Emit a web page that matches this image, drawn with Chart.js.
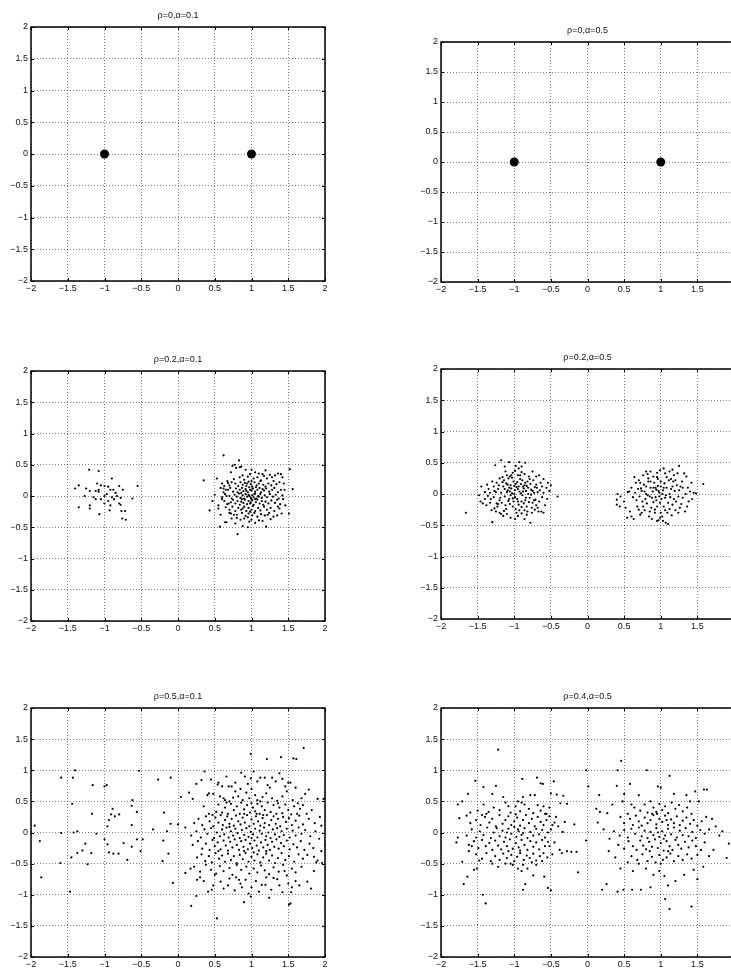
<!DOCTYPE html>
<html>
<head>
<meta charset="utf-8">
<script src="https://cdn.jsdelivr.net/npm/chart.js@4.4.0/dist/chart.umd.min.js"></script>
<style>
html, body { margin: 0; padding: 0; background: #fff; overflow: hidden; width: 731px; height: 970px; }
body { position: relative; }
canvas { position: absolute; }
</style>
</head>
<body>
<script>
// tick values shared by both axes of every panel
const tickValues = [-2, -1.5, -1, -0.5, 0, 0.5, 1, 1.5, 2];
const titles = ['ρ=0,α=0.1', 'ρ=0,α=0.5', 'ρ=0.2,α=0.1', 'ρ=0.2,α=0.5', 'ρ=0.5,α=0.1', 'ρ=0.4,α=0.5'];

// rho = 0 : only the two centres
const centers = [[-1, 0], [1, 0]];

// rho = 0.2, alpha = 0.1
const r02a01Left = [[-1.21,0.42],[-1.08,0.40],[-0.9,0.28],[-1.1,0.2],[-1.05,0.17],[-1.0,0.16],[-0.95,0.15],[-0.8,0.16],[-0.55,0.16],[-1.35,0.17],[-1.4,0.12],[-1.25,0.12],[-1.2,0.08],[-1.12,0.08],[-1.08,0.07],[-1.08,0.1],[-0.92,0.1],[-0.88,0.1],[-0.85,0.05],[-0.75,0.1],[-0.97,0.03],[-1.0,0.0],[-1.27,0.0],[-1.15,-0.02],[-0.9,-0.02],[-0.83,0.0],[-0.78,-0.03],[-0.62,-0.04],[-1.05,-0.05],[-0.95,-0.08],[-0.8,-0.12],[-0.78,-0.14],[-0.92,-0.15],[-1.2,-0.15],[-1.0,-0.12],[-1.35,-0.18],[-1.2,-0.2],[-0.93,-0.23],[-0.77,-0.24],[-0.72,-0.24],[-1.07,-0.29],[-0.76,-0.36],[-0.71,-0.38],[-1.12,-0.05],[-0.87,-0.05]];
const r02a01Right = [[0.35,0.25],[0.43,-0.23],[0.62,0.65],[0.57,-0.49],[0.81,-0.61],[0.83,0.57],[1.52,0.43],[1.51,-0.28],[1.56,0.11],[1.2,-0.49],[0.47,-0.08],[0.5,0.02],[0.55,-0.15],[0.53,0.28],[0.55,-0.2],[0.58,0.13],[0.6,-0.05],[0.63,0.16],[0.64,-0.42],[0.66,-0.42],[0.68,0.21],[0.7,-0.27],[0.72,0.38],[0.74,0.48],[0.77,0.5],[0.79,0.45],[0.78,-0.44],[0.8,-0.35],[0.84,0.46],[0.86,0.47],[0.88,-0.48],[0.92,0.42],[0.95,-0.5],[1.0,0.42],[1.05,0.38],[1.1,0.36],[1.15,0.35],[1.19,0.41],[1.25,0.34],[1.28,0.3],[1.32,0.33],[1.36,0.36],[1.4,0.35],[1.42,0.3],[1.44,0.2],[1.45,0.1],[1.43,-0.05],[1.46,-0.15],[1.41,-0.28],[1.38,-0.2],[1.35,-0.31],[1.3,-0.33],[1.26,-0.37],[1.22,-0.3],[1.15,-0.4],[1.1,-0.39],[1.05,-0.43],[1.0,-0.38],[0.97,-0.41],[0.9,-0.36],[0.85,-0.38],[0.76,-0.3],[0.73,-0.36],[0.69,-0.12],[0.66,0.0],[0.65,0.1],[0.62,0.12],[0.6,0.2],[0.58,-0.3],
[0.76,0.27],[0.84,0.3],[0.9,0.26],[0.95,0.31],[1.03,0.28],[1.08,0.3],[1.13,0.25],[1.21,0.28],[1.3,0.24],[0.88,0.33],[0.98,0.35],[1.17,0.32],
[0.7,0.17],[0.73,0.22],[0.78,0.2],[0.82,0.16],[0.85,0.22],[0.88,0.18],[0.91,0.21],[0.93,0.16],[0.96,0.23],[0.99,0.19],[1.01,0.15],[1.04,0.22],[1.07,0.17],[1.1,0.2],[1.12,0.24],[1.16,0.18],[1.19,0.15],[1.23,0.2],[1.27,0.17],[1.34,0.19],[1.38,0.22],[0.67,0.24],[0.94,0.2],[1.0,0.24],
[0.62,0.06],[0.68,0.1],[0.71,0.13],[0.75,0.07],[0.79,0.12],[0.81,0.06],[0.84,0.1],[0.87,0.13],[0.89,0.08],[0.92,0.11],[0.95,0.06],[0.97,0.14],[1.0,0.09],[1.02,0.12],[1.05,0.07],[1.08,0.1],[1.11,0.13],[1.13,0.06],[1.17,0.09],[1.2,0.12],[1.24,0.07],[1.28,0.1],[1.31,0.13],[1.36,0.06],[1.4,0.1],[0.86,0.05],[0.98,0.1],[1.06,0.14],[0.93,0.08],[1.15,0.11],
[0.6,-0.02],[0.64,0.03],[0.7,0.0],[0.73,-0.04],[0.77,0.02],[0.8,-0.01],[0.83,0.04],[0.85,-0.03],[0.88,0.01],[0.9,-0.04],[0.92,0.03],[0.94,-0.01],[0.96,0.02],[0.99,-0.03],[1.01,0.01],[1.03,-0.02],[1.05,0.04],[1.07,-0.04],[1.09,0.0],[1.12,0.03],[1.14,-0.03],[1.18,0.01],[1.21,-0.02],[1.25,0.03],[1.29,-0.01],[1.33,0.02],[1.37,-0.04],[1.42,0.01],[0.97,0.0],[1.0,-0.05],[1.04,0.03],[0.87,-0.05],[1.1,-0.01],
[0.63,-0.08],[0.67,-0.13],[0.72,-0.1],[0.75,-0.06],[0.78,-0.12],[0.81,-0.08],[0.84,-0.14],[0.86,-0.09],[0.89,-0.11],[0.91,-0.06],[0.94,-0.13],[0.96,-0.08],[0.98,-0.12],[1.01,-0.07],[1.03,-0.14],[1.06,-0.1],[1.08,-0.06],[1.11,-0.12],[1.14,-0.08],[1.16,-0.14],[1.19,-0.09],[1.23,-0.12],[1.27,-0.07],[1.32,-0.11],[1.35,-0.06],[1.39,-0.13],[0.99,-0.1],[1.05,-0.05],
[0.65,-0.18],[0.7,-0.22],[0.74,-0.17],[0.78,-0.24],[0.82,-0.19],[0.86,-0.22],[0.9,-0.17],[0.93,-0.24],[0.96,-0.19],[1.0,-0.22],[1.02,-0.16],[1.05,-0.24],[1.09,-0.19],[1.12,-0.23],[1.17,-0.17],[1.21,-0.22],[1.26,-0.19],[1.31,-0.24],[1.36,-0.17],[0.88,-0.2],[0.98,-0.25],
[0.72,-0.28],[0.8,-0.3],[0.87,-0.27],[0.92,-0.32],[0.96,-0.28],[1.01,-0.31],[1.04,-0.27],[1.08,-0.33],[1.13,-0.29],[1.18,-0.31],[1.24,-0.27],[0.95,-0.34]];

// rho = 0.2, alpha = 0.5
const r02a05Left = [[-1.66,-0.30],[-0.41,-0.04],[-1.30,-0.45],[-1.18,0.54],[-1.26,0.46],[-1.07,0.51],[-0.93,0.51],[-0.85,0.50],[-1.45,0.12],[-1.37,0.15],[-0.78,-0.46],[-0.60,0.24],[-0.50,0.14],[-0.55,-0.08],[-0.63,-0.28],[-0.67,-0.28],[-1.48,-0.02],[-1.46,-0.12],[-1.43,-0.15],[-1.40,-0.08],[-1.38,-0.18],[-1.33,-0.14],[-1.31,-0.26],[-1.27,-0.23],[-1.25,-0.28],[-1.22,-0.16],[-1.20,-0.30],[-1.15,-0.35],[-1.10,-0.32],[-1.05,-0.38],[-0.99,-0.40],[-0.95,-0.35],[-0.90,-0.31],[-0.86,-0.40],[-0.83,-0.33],[-0.76,-0.30],[-0.72,-0.25],[-0.58,-0.18],[-0.52,0.05],[-0.54,0.18],[-0.56,0.10],[-0.62,0.12],[-0.65,0.06],[-0.70,0.15],[-0.74,0.22],[-0.80,0.28],[-0.86,0.32],[-0.90,0.35],[-0.95,0.30],[-0.99,0.37],[-1.02,0.34],[-1.06,0.28],[-1.12,0.36],[-1.16,0.27],[-1.20,0.25],[-1.24,0.18],[-1.28,0.12],[-1.33,0.02],[-1.28,-0.05],
[-1.22,0.08],[-1.18,0.02],[-1.15,0.12],[-1.13,-0.04],[-1.11,0.17],[-1.09,0.06],[-1.07,-0.08],[-1.05,0.14],[-1.03,0.01],[-1.01,0.2],[-0.99,-0.05],[-0.97,0.11],[-0.95,-0.12],[-0.93,0.04],[-0.91,0.16],[-0.89,-0.02],[-0.87,0.09],[-0.85,-0.1],[-0.83,0.13],[-0.81,0.0],[-0.79,-0.06],[-0.77,0.07],[-0.75,-0.14],[-0.73,0.02],[-0.71,-0.09],[-0.69,0.1],[-1.2,-0.1],[-1.17,-0.14],[-1.14,0.22],[-1.12,-0.18],[-1.1,0.03],[-1.08,0.25],[-1.06,-0.16],[-1.04,0.09],[-1.02,-0.2],[-1.0,0.13],[-0.98,-0.24],[-0.96,0.19],[-0.94,-0.17],[-0.92,0.24],[-0.9,-0.21],[-0.88,0.12],[-0.86,-0.26],[-0.84,0.05],[-0.82,0.2],[-0.8,-0.13],[-0.78,0.16],[-0.76,-0.22],[-0.72,0.11],[-0.7,-0.18],[-0.68,0.03],[-0.66,-0.12],[-0.64,0.18],[-1.25,0.03],[-1.23,-0.2],[-1.21,0.14],[-1.19,-0.06],[-1.16,0.19],[-1.13,0.08],[-1.11,-0.24],[-1.09,0.15],[-1.07,0.1],[-1.05,-0.02],[-1.03,0.26],[-1.01,-0.12],[-0.99,0.06],[-0.97,-0.3],[-0.95,0.08],[-0.93,-0.26],[-0.91,0.01],[-0.89,0.22],[-0.87,-0.15],[-0.85,0.18],[-0.83,-0.2],[-0.81,0.1],[-0.79,0.24],[-0.77,-0.01],[-0.75,0.05],[-0.73,-0.1],[-1.35,0.08],[-1.32,-0.08],[-1.3,0.2],[-1.27,0.05],[-1.14,-0.27],[-1.04,0.3],[-0.96,-0.08],[-0.92,0.3],[-1.0,0.0],[-0.94,0.12],[-1.06,0.04],[-0.88,0.04],[-0.84,-0.06],[-0.98,0.16],[-1.02,-0.07],[-0.9,-0.12],[-0.86,0.14],[-1.08,-0.11],[-0.82,-0.28],[-0.7,0.28],[-0.62,-0.05],[-0.68,-0.22],[-0.6,0.02],[-1.36,-0.03],[-1.4,0.03],[-1.24,-0.15],[-1.1,0.3],[-0.94,0.41],[-0.98,0.45],[-0.9,0.44],[-1.13,0.44],[-0.75,0.36],[-0.66,0.3],[-0.6,-0.3],[-1.18,-0.32]];
const r02a05Right = [[1.58,0.16],[0.41,0.0],[0.40,-0.17],[0.40,-0.09],[0.54,-0.38],[0.63,-0.40],[1.07,-0.46],[1.10,-0.48],[1.25,0.45],[1.04,0.41],[0.64,0.27],[0.55,0.03],[0.5,-0.12],[0.52,-0.22],[0.58,-0.28],[0.6,0.1],[0.62,-0.05],[0.66,0.18],[0.68,-0.2],[0.7,0.22],[0.72,-0.33],[0.74,0.05],[0.76,0.3],[0.78,-0.26],[0.8,0.12],[0.82,0.32],[0.84,-0.36],[0.86,0.36],[0.88,-0.4],[0.9,0.28],[0.92,-0.3],[0.95,0.34],[0.97,-0.42],[0.99,0.38],[1.02,-0.36],[1.06,0.33],[1.09,-0.3],[1.12,0.36],[1.15,-0.34],[1.18,0.3],[1.2,-0.26],[1.23,0.33],[1.26,-0.22],[1.29,0.2],[1.32,0.33],[1.35,0.28],[1.37,0.1],[1.38,-0.12],[1.36,-0.2],[1.33,-0.28],[1.3,-0.06],[1.4,0.04],[1.42,0.18],[1.45,0.02],[1.48,0.01],[1.43,-0.08],[1.27,0.12],[1.24,-0.04],[1.22,0.14],[1.21,-0.12],[1.19,0.05],[1.17,0.2],[1.16,-0.17],[1.14,0.08],[1.13,-0.05],[1.11,0.22],[1.1,-0.14],[1.08,0.1],[1.07,-0.02],[1.05,0.17],[1.04,-0.2],[1.03,0.06],[1.01,-0.08],[1.0,0.2],[0.99,-0.14],[0.98,0.02],[0.96,0.13],[0.95,-0.2],[0.94,0.07],[0.93,-0.05],[0.91,0.18],[0.9,-0.13],[0.89,0.04],[0.87,-0.22],[0.86,0.1],[0.85,-0.04],[0.83,0.2],[0.81,-0.15],[0.8,0.0],[0.79,-0.08],[0.77,0.15],[0.75,-0.12],[0.73,0.09],[0.71,-0.04],[0.69,0.08],[0.67,-0.1],[0.65,0.02],[0.85,-0.28],[0.92,-0.25],[1.0,-0.3],[1.06,-0.26],[0.83,0.25],[0.96,0.24],[1.08,0.27],[1.14,0.24],[0.88,-0.06],[1.02,0.0],[1.06,-0.06],[0.97,0.05],[0.93,0.1],[1.12,0.0],[1.18,-0.08],[0.78,0.04],[0.82,-0.02],[1.25,0.06],[1.3,0.1],[0.72,0.18],[0.7,-0.25],[0.76,-0.2],[1.34,0.0],[1.28,-0.16],[1.0,0.12],[0.9,0.1],[0.94,-0.1],[1.04,0.1],[1.16,0.12],[0.98,-0.04],[1.2,0.22],[0.86,0.2],[0.74,-0.3],[0.6,-0.36],[1.12,-0.24],[1.24,-0.3],[1.03,-0.43],[0.95,-0.43],[0.99,-0.38],[0.8,0.36],[0.95,0.27],[1.16,0.39],[0.45,-0.04],[0.44,-0.2],[0.57,0.04]];

// rho = 0.5, alpha = 0.1
const r05a01Left = [[-1.59,0.88],[-1.43,0.88],[-1.40,1.0],[-1.95,0.11],[-1.88,-0.14],[-1.86,-0.72],[-2.0,-0.57],[-1.59,-0.01],[-1.6,-0.49],[-1.44,0.46],[-1.42,0.0],[-1.37,0.02],[-1.37,-0.33],[-1.45,-0.40],[-1.47,-0.95],[-1.30,-0.29],[-1.26,-0.18],[-1.23,-0.51],[-1.18,-0.33],[-1.17,0.30],[-1.16,0.76],[-1.11,-0.02],[-1.0,0.74],[-0.97,0.76],[-1.0,-0.11],[-0.96,0.10],[-0.94,0.20],[-0.96,-0.19],[-0.94,-0.32],[-0.91,0.29],[-0.89,0.38],[-0.86,0.26],[-0.88,-0.34],[-0.81,-0.34],[-0.80,0.29],[-0.74,-0.17],[-0.69,-0.44],[-0.63,0.43],[-0.62,0.52],[-0.63,0.12],[-0.63,-0.23],[-0.56,0.33],[-0.56,-0.11],[-0.53,0.99],[-0.51,-0.30],[-0.48,-0.11],[-0.34,0.05],[-0.27,0.85],[-0.10,0.88],[-0.2,-0.13],[-0.19,0.32],[-0.15,0.02],[-0.21,-0.46],[-0.13,-0.34],[-0.10,0.14],[-0.07,-0.81],[0.0,0.13],[0.04,0.57]];
const r05a01Right = [[0.99,1.26],[1.21,1.18],[1.40,1.21],[1.57,1.19],[1.71,1.36],[0.53,-1.38],[0.18,-1.18],[1.51,-1.16],[1.53,-1.14],[0.25,-1.02],[1.24,-1.05],[1.81,-0.90],[0.99,-1.03],[1.95,0.11],[2.0,-0.2],[1.96,-0.49],[0.41,-0.95],[0.46,-0.92],[0.36,0.98],[0.32,0.84],[0.54,0.77],[0.6,0.74],[0.69,0.74],[0.73,0.74],[0.86,0.96],[0.91,0.9],[0.99,0.87],[1.03,0.98],[1.12,0.88],[1.18,0.88],[1.33,0.82],[1.42,0.86],[1.5,0.8],[1.53,0.8],[1.61,1.18],[1.78,0.69],[1.73,0.62],[1.9,0.54],[1.98,0.54],[1.92,-0.1],[1.95,-0.3],[1.88,-0.48],[1.85,-0.39],[1.76,-0.79],[1.6,-0.78],[1.55,-0.88],[1.54,-0.96],[1.45,-0.62],[1.38,-0.85],[1.3,-0.73],[1.14,-0.84],[1.19,-0.84],[1.1,-0.95],[0.96,-0.98],[0.87,-0.88],[0.9,-1.12],[0.79,-0.72],[0.83,-0.76],[0.68,-0.85],[0.58,-0.79],[0.5,-0.68],[0.26,-0.76],[0.3,-0.72],[0.17,-0.58],[0.1,-0.65],[0.15,0.64],[0.2,0.54],[0.25,0.78],[0.4,0.6],[0.42,0.63],[0.55,0.8],[0.64,0.52],
[0.48,0.62],[0.62,0.55],[0.7,0.5],[0.78,0.66],[0.82,0.58],[0.88,0.52],[0.93,0.64],[0.97,0.55],[1.05,0.6],[1.08,0.52],[1.15,0.57],[1.2,0.63],[1.28,0.55],[1.35,0.51],[1.42,0.58],[1.48,0.66],[1.56,0.52],[1.63,0.47],[1.68,0.55],[0.75,0.56],[1.0,0.7],[1.25,0.72],[0.57,0.58],[0.85,0.7],
[0.35,0.42],[0.42,0.3],[0.47,0.28],[0.52,0.33],[0.55,0.45],[0.6,0.32],[0.64,0.4],[0.68,0.3],[0.72,0.46],[0.76,0.36],[0.8,0.42],[0.84,0.3],[0.86,0.48],[0.9,0.37],[0.94,0.44],[0.98,0.32],[1.02,0.4],[1.05,0.34],[1.08,0.46],[1.11,0.3],[1.14,0.42],[1.18,0.36],[1.22,0.48],[1.26,0.33],[1.3,0.44],[1.34,0.3],[1.38,0.4],[1.42,0.31],[1.46,0.45],[1.5,0.36],[1.54,0.29],[1.58,0.42],[1.62,0.3],[1.66,0.38],[1.7,0.44],[1.75,0.3],[1.82,0.36],[0.66,0.48],[1.0,0.47],[1.12,0.5],[1.36,0.47],
[0.22,0.15],[0.28,0.22],[0.33,0.12],[0.38,0.26],[0.43,0.18],[0.48,0.1],[0.51,0.24],[0.55,0.16],[0.58,0.28],[0.61,0.12],[0.64,0.2],[0.67,0.26],[0.7,0.14],[0.73,0.22],[0.76,0.11],[0.79,0.27],[0.82,0.18],[0.85,0.13],[0.88,0.24],[0.91,0.16],[0.94,0.28],[0.97,0.1],[1.0,0.21],[1.03,0.14],[1.06,0.26],[1.09,0.18],[1.12,0.11],[1.15,0.23],[1.18,0.15],[1.21,0.28],[1.24,0.12],[1.27,0.2],[1.3,0.26],[1.33,0.14],[1.36,0.22],[1.39,0.1],[1.43,0.25],[1.47,0.17],[1.51,0.23],[1.55,0.12],[1.6,0.19],[1.65,0.27],[1.7,0.13],[1.78,0.22],[1.86,0.15],[1.93,0.25],[0.9,0.3],[1.07,0.3],[1.16,0.28],
[0.1,0.08],[0.18,-0.05],[0.25,0.02],[0.31,-0.08],[0.36,0.05],[0.4,-0.02],[0.45,0.07],[0.49,-0.09],[0.53,0.0],[0.57,-0.06],[0.6,0.05],[0.63,-0.03],[0.66,0.08],[0.69,-0.08],[0.72,0.02],[0.75,-0.05],[0.78,0.06],[0.81,-0.01],[0.84,-0.09],[0.87,0.04],[0.9,-0.04],[0.93,0.07],[0.96,-0.07],[0.99,0.01],[1.02,-0.03],[1.05,0.06],[1.08,-0.08],[1.11,0.03],[1.14,-0.02],[1.17,0.08],[1.2,-0.06],[1.23,0.0],[1.26,-0.09],[1.29,0.05],[1.32,-0.03],[1.35,0.07],[1.38,-0.07],[1.41,0.02],[1.44,-0.04],[1.48,0.06],[1.52,-0.08],[1.56,0.03],[1.6,-0.05],[1.64,0.08],[1.68,-0.02],[1.73,0.04],[1.8,-0.06],[1.87,0.02],[0.7,0.09],[1.0,-0.09],
[0.2,-0.2],[0.27,-0.14],[0.33,-0.26],[0.38,-0.18],[0.43,-0.28],[0.47,-0.12],[0.5,-0.22],[0.54,-0.16],[0.58,-0.27],[0.62,-0.13],[0.65,-0.21],[0.68,-0.29],[0.71,-0.15],[0.74,-0.24],[0.77,-0.11],[0.8,-0.2],[0.83,-0.28],[0.86,-0.14],[0.89,-0.23],[0.92,-0.12],[0.95,-0.27],[0.98,-0.18],[1.01,-0.25],[1.04,-0.13],[1.07,-0.21],[1.1,-0.29],[1.13,-0.16],[1.16,-0.24],[1.19,-0.12],[1.22,-0.2],[1.25,-0.28],[1.28,-0.15],[1.31,-0.23],[1.34,-0.11],[1.37,-0.26],[1.4,-0.17],[1.44,-0.22],[1.48,-0.13],[1.52,-0.27],[1.57,-0.19],[1.62,-0.24],[1.67,-0.14],[1.72,-0.28],[1.79,-0.18],[1.84,-0.25],[0.55,-0.3],[0.9,-0.3],[1.2,-0.3],
[0.26,-0.4],[0.32,-0.35],[0.37,-0.46],[0.42,-0.38],[0.46,-0.48],[0.51,-0.33],[0.56,-0.42],[0.6,-0.37],[0.64,-0.47],[0.68,-0.34],[0.72,-0.44],[0.76,-0.38],[0.8,-0.49],[0.84,-0.36],[0.88,-0.43],[0.92,-0.33],[0.96,-0.47],[1.0,-0.39],[1.04,-0.45],[1.08,-0.35],[1.12,-0.48],[1.16,-0.4],[1.2,-0.34],[1.24,-0.45],[1.28,-0.37],[1.32,-0.49],[1.36,-0.41],[1.41,-0.33],[1.46,-0.44],[1.51,-0.38],[1.58,-0.47],[1.64,-0.35],[1.7,-0.42],[1.76,-0.36],[1.9,-0.45],[1.03,-0.32],
[0.22,-0.55],[0.3,-0.63],[0.38,-0.52],[0.45,-0.6],[0.52,-0.66],[0.57,-0.54],[0.62,-0.62],[0.7,-0.57],[0.74,-0.68],[0.8,-0.52],[0.86,-0.6],[0.93,-0.55],[0.97,-0.66],[1.03,-0.58],[1.08,-0.64],[1.13,-0.53],[1.18,-0.61],[1.24,-0.67],[1.3,-0.56],[1.37,-0.63],[1.43,-0.52],[1.48,-0.69],[1.55,-0.58],[1.6,-0.64],[1.68,-0.55],[1.85,-0.62],
[0.35,-0.78],[0.48,-0.85],[0.62,-0.9],[0.7,-0.74],[0.77,-0.93],[0.85,-0.82],[0.92,-0.76],[1.0,-0.88],[1.06,-0.78],[1.2,-0.72],[1.27,-0.92],[1.35,-0.75],[1.42,-0.96],[1.5,-0.82],[1.65,-0.85],
[0.45,0.85],[0.66,0.9],[0.78,0.8],[0.95,0.78],[1.08,0.82],[1.22,0.76],[1.38,0.95],[1.46,0.74],[1.6,0.72],[1.28,0.88]];

// rho = 0.4, alpha = 0.5
const r04a05Left = [[-1.22,1.33],[-1.53,0.83],[-1.42,0.73],[-1.25,0.75],[-0.89,0.86],[-0.69,0.88],[-0.64,0.79],[-0.61,0.78],[-0.46,0.82],[-1.63,0.62],[-1.77,0.45],[-1.71,0.5],[-1.75,0.23],[-1.79,-0.16],[-1.77,-0.08],[-1.71,-0.47],[-1.69,-0.83],[-1.64,-0.71],[-1.51,-0.58],[-1.43,-1.0],[-1.39,-1.14],[-0.88,-0.92],[-0.85,-0.83],[-0.74,-0.69],[-0.59,-0.71],[-0.54,-0.89],[-0.5,-0.93],[-0.13,-0.64],[-0.22,-0.31],[-0.15,-0.31],[-0.18,0.13],[-0.31,0.17],[-0.34,0.01],[-0.45,-0.16],[-0.45,0.16],[-0.37,0.47],[-0.33,0.59],[-0.28,0.46],[-0.5,0.63],[-0.42,0.61],[-1.3,0.62],[-1.15,0.57],[-1.08,0.42],[-0.78,0.6],[-0.72,0.6],[-0.88,0.57],[-0.95,0.5],[-1.6,0.32],[-1.65,0.27],[-1.58,-0.22],[-1.62,-0.3],[-1.55,-0.6],[-1.48,-0.45],[-1.3,-0.5],[-1.22,-0.55],[-1.05,-0.5],[-1.02,-0.52],[-0.95,-0.58],[-0.9,-0.62],[-0.88,-0.52],[-0.82,-0.58],[-0.76,-0.48],[-0.7,-0.52],[-0.62,-0.46],[-0.55,-0.4],[-0.52,-0.22],[-0.48,-0.35],[-0.38,-0.28],[-0.35,-0.33],[-0.28,-0.3],[-0.4,0.1],[-0.43,0.25],[-0.52,0.4],[-0.58,0.3],[-0.6,0.42],
[-1.5,0.35],[-1.42,0.45],[-1.35,0.33],[-1.28,0.4],[-1.2,0.36],[-1.12,0.48],[-1.05,0.32],[-0.98,0.42],[-0.92,0.34],[-0.86,0.45],[-0.8,0.38],[-0.74,0.31],[-0.68,0.44],[-0.64,0.35],[-0.56,0.3],[-1.38,0.3],[-0.9,0.48],
[-1.6,0.15],[-1.52,0.2],[-1.46,0.12],[-1.4,0.25],[-1.34,0.16],[-1.3,0.22],[-1.25,0.1],[-1.2,0.28],[-1.16,0.14],[-1.12,0.2],[-1.08,0.26],[-1.04,0.12],[-1.0,0.18],[-0.96,0.24],[-0.92,0.11],[-0.88,0.2],[-0.84,0.28],[-0.8,0.15],[-0.76,0.22],[-0.72,0.1],[-0.68,0.25],[-0.64,0.17],[-0.6,0.12],[-0.56,0.2],[-0.52,0.26],[-0.48,0.12],[-1.44,0.28],[-0.98,0.29],
[-1.65,-0.05],[-1.58,0.05],[-1.52,-0.08],[-1.47,0.02],[-1.42,-0.04],[-1.37,0.08],[-1.32,-0.09],[-1.28,0.0],[-1.24,0.07],[-1.2,-0.06],[-1.16,0.03],[-1.12,-0.08],[-1.08,0.06],[-1.04,-0.02],[-1.0,0.09],[-0.97,-0.07],[-0.94,0.02],[-0.9,-0.04],[-0.86,0.07],[-0.82,-0.09],[-0.78,0.01],[-0.74,-0.05],[-0.7,0.06],[-0.66,-0.03],[-0.62,0.04],[-0.58,-0.08],[-0.54,0.0],[-0.5,0.05],[-1.1,0.0],[-0.95,0.05],[-0.88,-0.01],
[-1.62,-0.2],[-1.55,-0.14],[-1.49,-0.25],[-1.44,-0.12],[-1.39,-0.22],[-1.34,-0.17],[-1.3,-0.28],[-1.26,-0.13],[-1.22,-0.21],[-1.18,-0.27],[-1.14,-0.15],[-1.1,-0.22],[-1.06,-0.11],[-1.02,-0.26],[-0.98,-0.17],[-0.94,-0.24],[-0.9,-0.12],[-0.86,-0.2],[-0.82,-0.28],[-0.78,-0.14],[-0.74,-0.23],[-0.7,-0.16],[-0.66,-0.27],[-0.62,-0.12],[-0.58,-0.22],[-0.54,-0.15],[-1.08,-0.3],[-0.92,-0.29],
[-1.52,-0.35],[-1.44,-0.42],[-1.38,-0.33],[-1.32,-0.46],[-1.26,-0.38],[-1.2,-0.44],[-1.15,-0.34],[-1.1,-0.41],[-1.04,-0.36],[-1.0,-0.46],[-0.96,-0.39],[-0.92,-0.33],[-0.87,-0.44],[-0.83,-0.37],[-0.79,-0.41],[-0.74,-0.34],[-0.7,-0.45],[-0.65,-0.38],[-0.6,-0.33],[-1.12,-0.5]];
const r04a05Right = [[0.46,1.15],[0.41,1.0],[-0.02,1.0],[0.01,0.74],[0.16,0.6],[0.58,0.78],[0.81,1.0],[1.12,0.91],[1.47,0.66],[1.59,0.69],[1.63,0.69],[1.84,0.02],[1.93,-0.18],[1.9,-0.41],[1.06,-1.07],[1.12,-1.23],[1.42,-1.19],[0.2,-0.92],[0.26,-0.83],[0.41,-0.95],[0.49,-0.92],[0.61,-0.92],[0.73,-0.92],[0.86,-0.88],[-0.02,-0.13],[0.14,0.16],[0.17,0.33],[0.27,0.31],[0.29,-0.3],[0.4,0.75],[0.7,0.6],[0.96,0.74],[1.0,0.72],[1.18,0.62],[1.35,0.6],[1.4,0.5],[1.52,0.5],[1.7,0.22],[1.75,0.1],[1.8,-0.05],[1.72,-0.28],[1.66,-0.38],[1.58,-0.55],[1.5,-0.75],[1.45,-0.6],[1.32,-0.68],[1.2,-0.78],[1.1,-0.85],[1.05,-0.7],[0.98,-0.62],[0.9,-0.68],[0.8,-0.58],[0.7,-0.5],[0.62,-0.62],[0.55,-0.48],[0.45,-0.58],[0.38,-0.4],[0.3,-0.1],[0.22,0.05],[0.34,0.45],[0.48,0.5],[0.5,0.62],[0.55,0.3],[0.45,0.25],[0.6,0.45],[0.12,0.38],
[0.72,0.35],[0.78,0.45],[0.82,0.32],[0.86,0.5],[0.9,0.4],[0.94,0.33],[0.98,0.46],[1.02,0.36],[1.06,0.42],[1.1,0.31],[1.15,0.48],[1.2,0.38],[1.25,0.44],[1.3,0.34],[1.36,0.4],[1.42,0.3],[0.64,0.4],[0.88,0.3],
[0.5,0.15],[0.58,0.22],[0.62,0.12],[0.66,0.27],[0.7,0.18],[0.74,0.11],[0.78,0.24],[0.82,0.15],[0.86,0.2],[0.9,0.28],[0.94,0.13],[0.98,0.22],[1.02,0.17],[1.06,0.27],[1.1,0.12],[1.14,0.21],[1.18,0.15],[1.22,0.26],[1.26,0.12],[1.3,0.19],[1.35,0.24],[1.4,0.14],[1.45,0.2],[1.5,0.11],[1.56,0.18],[1.62,0.25],[0.95,0.3],[1.08,0.2],
[0.36,0.02],[0.44,-0.05],[0.5,0.04],[0.55,-0.08],[0.6,0.06],[0.65,-0.02],[0.7,0.08],[0.74,-0.06],[0.78,0.03],[0.82,-0.09],[0.86,0.01],[0.9,-0.04],[0.94,0.07],[0.98,-0.07],[1.02,0.02],[1.06,-0.05],[1.1,0.06],[1.14,-0.03],[1.18,0.08],[1.22,-0.08],[1.26,0.03],[1.3,-0.04],[1.34,0.07],[1.38,-0.06],[1.43,0.01],[1.48,-0.09],[1.54,0.04],[1.6,-0.02],[1.66,0.05],[0.96,0.0],[1.04,-0.1],
[0.42,-0.2],[0.5,-0.26],[0.56,-0.14],[0.62,-0.22],[0.67,-0.28],[0.72,-0.13],[0.76,-0.21],[0.8,-0.27],[0.84,-0.15],[0.88,-0.23],[0.92,-0.11],[0.96,-0.25],[1.0,-0.17],[1.04,-0.29],[1.08,-0.14],[1.12,-0.22],[1.16,-0.28],[1.2,-0.12],[1.24,-0.2],[1.28,-0.26],[1.33,-0.15],[1.38,-0.24],[1.43,-0.13],[1.48,-0.22],[1.55,-0.28],[1.6,-0.16],[0.85,-0.3],[1.1,-0.3],
[0.6,-0.38],[0.68,-0.44],[0.75,-0.35],[0.82,-0.46],[0.88,-0.39],[0.93,-0.48],[0.98,-0.36],[1.03,-0.44],[1.08,-0.4],[1.13,-0.34],[1.18,-0.46],[1.24,-0.38],[1.3,-0.44],[1.36,-0.35],[1.42,-0.42],[1.5,-0.36],[1.0,-0.5]];

// axes boxes on the page: left, top, width, height
const boxes = [
  [31, 27, 294, 254], [441, 42, 293, 240],
  [31, 371, 294, 250], [441, 369, 293, 250],
  [31, 708, 294, 249], [441, 708, 293, 249]
];

const panels = [
  { title: titles[0], sets: [centers], big: true },
  { title: titles[1], sets: [centers], big: true },
  { title: titles[2], sets: [r02a01Left, r02a01Right] },
  { title: titles[3], sets: [r02a05Left, r02a05Right] },
  { title: titles[4], sets: [r05a01Left, r05a01Right] },
  { title: titles[5], sets: [r04a05Left, r04a05Right] }
];

const AXIS_W = 32, TITLE_H = 25, XAXIS_H = 20, RIGHT_PAD = 8;
const FONT = { family: '"Liberation Sans", Arial, Helvetica, sans-serif', size: 9 };

function fmt(v) {
  return v < 0 ? '\u2212' + Math.abs(v) : String(v);
}

// matlab style box with inward ticks on all four sides
const boxPlugin = {
  id: 'matlabBox',
  afterDraw(chart) {
    const { ctx, chartArea: a, scales } = chart;
    ctx.save();
    ctx.strokeStyle = '#000';
    ctx.lineWidth = 1;
    ctx.beginPath();
    tickValues.forEach(v => {
      const px = Math.round(scales.x.getPixelForValue(v)) + 0.5;
      ctx.moveTo(px, a.bottom); ctx.lineTo(px, a.bottom - 3);
      ctx.moveTo(px, a.top); ctx.lineTo(px, a.top + 3);
      const py = Math.round(scales.y.getPixelForValue(v)) + 0.5;
      ctx.moveTo(a.left, py); ctx.lineTo(a.left + 3, py);
      ctx.moveTo(a.right, py); ctx.lineTo(a.right - 3, py);
    });
    ctx.stroke();
    ctx.lineWidth = 1.5;
    ctx.strokeRect(a.left, a.top, a.right - a.left, a.bottom - a.top);
    ctx.restore();
  }
};

function axis(fit, pad) {
  return {
    type: 'linear', min: -2, max: 2,
    afterBuildTicks: s => { s.ticks = tickValues.map(v => ({ value: v })); },
    afterFit: fit,
    grid: { color: 'rgba(0,0,0,0.5)', lineWidth: 1, drawTicks: false },
    border: { display: false, dash: [1, 2] },
    ticks: { padding: pad, color: '#111', font: FONT, autoSkip: false, maxRotation: 0, callback: v => fmt(v) }
  };
}

panels.forEach((p, i) => {
  const [l, t, w, h] = boxes[i];
  const cv = document.createElement('canvas');
  cv.width = AXIS_W + w + RIGHT_PAD;
  cv.height = TITLE_H + h + XAXIS_H;
  cv.style.left = (l - AXIS_W) + 'px';
  cv.style.top = (t - TITLE_H) + 'px';
  document.body.appendChild(cv);
  new Chart(cv, {
    type: 'scatter',
    data: {
      datasets: p.sets.map(s => ({
        data: s.map(([x, y]) => ({ x, y })),
        backgroundColor: '#000',
        borderColor: '#000',
        pointRadius: p.big ? 4.5 : 1.1,
        pointBorderWidth: 0,
        pointHoverRadius: 0
      }))
    },
    options: {
      responsive: false,
      animation: false,
      events: [],
      layout: { padding: { top: 9, left: 0, right: RIGHT_PAD, bottom: 0 } },
      plugins: {
        legend: { display: false },
        tooltip: { enabled: false },
        title: {
          display: true, fullSize: false, text: p.title, color: '#111',
          font: Object.assign({}, FONT, { weight: 'normal', lineHeight: 1 }),
          padding: { top: 0, bottom: 7 }
        }
      },
      scales: {
        x: axis(s => { s.height = XAXIS_H; }, 2),
        y: axis(s => { s.width = AXIS_W; }, 3)
      }
    },
    plugins: [boxPlugin]
  });
});
</script>
</body>
</html>
